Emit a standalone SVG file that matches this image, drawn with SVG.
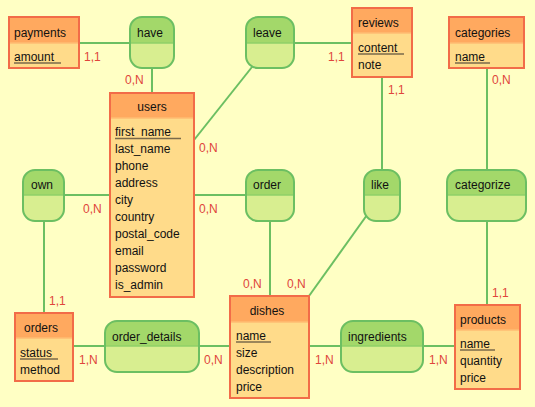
<svg xmlns="http://www.w3.org/2000/svg" width="535" height="407" viewBox="0 0 535 407">
<style>
text{font-family:"Liberation Sans",Arial,sans-serif;font-size:12px;fill:#111}
.card{fill:#e0453b}
.eb{fill:#ffdb8a}
.eh{fill:#ffa95f}
.eo{fill:none;stroke:#f26c48;stroke-width:2}
.ed{stroke:#ffbd72;stroke-width:1.5}
.rb{fill:#d8ee90}
.rh{fill:#a3d86a}
.ro{fill:none;stroke:#6cbf62;stroke-width:2}
.rd{stroke:#8fd068;stroke-width:1.5}
.ul{stroke:#7a6a4a;stroke-width:1.5}
#links line{stroke:#6cbf62;stroke-width:2}
</style>
<rect x="0" y="0" width="535" height="407" fill="#ffffc4"/>
<g id="links">
<line x1="79" y1="43" x2="130" y2="43"/>
<line x1="152" y1="68" x2="152" y2="93"/>
<line x1="252" y1="67" x2="194" y2="140"/>
<line x1="294" y1="43" x2="352" y2="43"/>
<line x1="382" y1="77" x2="382" y2="170"/>
<line x1="487" y1="68" x2="487" y2="170"/>
<line x1="487" y1="221" x2="487" y2="305"/>
<line x1="64" y1="195" x2="110" y2="195"/>
<line x1="194" y1="195" x2="246" y2="195"/>
<line x1="44" y1="221" x2="44" y2="313"/>
<line x1="270" y1="221" x2="270" y2="296"/>
<line x1="367" y1="215" x2="309" y2="296"/>
<line x1="73" y1="346" x2="105" y2="346"/>
<line x1="199" y1="346" x2="230" y2="346"/>
<line x1="309" y1="346" x2="341" y2="346"/>
<line x1="423" y1="346" x2="455" y2="346"/>
</g>
<g id="cards">
<text class="card" x="84" y="61">1,1</text>
<text class="card" x="125" y="84">0,N</text>
<text class="card" x="199" y="152">0,N</text>
<text class="card" x="328" y="61">1,1</text>
<text class="card" x="388" y="94">1,1</text>
<text class="card" x="492" y="84">0,N</text>
<text class="card" x="83" y="213">0,N</text>
<text class="card" x="199" y="213">0,N</text>
<text class="card" x="49" y="305">1,1</text>
<text class="card" x="243" y="288">0,N</text>
<text class="card" x="287" y="288">0,N</text>
<text class="card" x="492" y="297">1,1</text>
<text class="card" x="79" y="364">1,N</text>
<text class="card" x="204" y="364">0,N</text>
<text class="card" x="315" y="364">1,N</text>
<text class="card" x="429" y="364">1,N</text>
</g>
<g id="payments">
<rect class="eb" x="9" y="17" width="70" height="51"/>
<rect class="eh" x="9" y="17" width="70" height="26"/>
<line class="ed" x1="10" y1="43" x2="78" y2="43"/>
<rect class="eo" x="9" y="17" width="70" height="51"/>
<text x="14" y="37">payments</text>
<text x="14" y="61">amount</text>
<line class="ul" x1="14" y1="63" x2="61" y2="63"/>
</g>
<g id="users">
<rect class="eb" x="110" y="93" width="84" height="204"/>
<rect class="eh" x="110" y="93" width="84" height="25"/>
<line class="ed" x1="111" y1="118" x2="193" y2="118"/>
<rect class="eo" x="110" y="93" width="84" height="204"/>
<text x="152" y="111" text-anchor="middle">users</text>
<text x="115" y="136">first_name</text>
<line class="ul" x1="115" y1="138.5" x2="181" y2="138.5"/>
<text x="115" y="153">last_name</text>
<text x="115" y="170">phone</text>
<text x="115" y="187">address</text>
<text x="115" y="204">city</text>
<text x="115" y="221">country</text>
<text x="115" y="238">postal_code</text>
<text x="115" y="255">email</text>
<text x="115" y="272">password</text>
<text x="115" y="289">is_admin</text>
</g>
<g id="reviews">
<rect class="eb" x="352" y="8" width="60" height="69"/>
<rect class="eh" x="352" y="8" width="60" height="25"/>
<line class="ed" x1="353" y1="33" x2="411" y2="33"/>
<rect class="eo" x="352" y="8" width="60" height="69"/>
<text x="358" y="27">reviews</text>
<text x="358" y="52">content</text>
<line class="ul" x1="358" y1="54" x2="404" y2="54"/>
<text x="358" y="69">note</text>
</g>
<g id="categories">
<rect class="eb" x="449" y="17" width="75" height="51"/>
<rect class="eh" x="449" y="17" width="75" height="26"/>
<line class="ed" x1="450" y1="43" x2="523" y2="43"/>
<rect class="eo" x="449" y="17" width="75" height="51"/>
<text x="455" y="37">categories</text>
<text x="455" y="61">name</text>
<line class="ul" x1="455" y1="63" x2="490" y2="63"/>
</g>
<g id="orders">
<rect class="eb" x="15" y="313" width="58" height="68"/>
<rect class="eh" x="15" y="313" width="58" height="25"/>
<line class="ed" x1="16" y1="338" x2="72" y2="338"/>
<rect class="eo" x="15" y="313" width="58" height="68"/>
<text x="24" y="332">orders</text>
<text x="20" y="357">status</text>
<line class="ul" x1="20" y1="359" x2="58" y2="359"/>
<text x="20" y="374">method</text>
</g>
<g id="dishes">
<rect class="eb" x="230" y="296" width="79" height="102"/>
<rect class="eh" x="230" y="296" width="79" height="26"/>
<line class="ed" x1="231" y1="322" x2="308" y2="322"/>
<rect class="eo" x="230" y="296" width="79" height="102"/>
<text x="267" y="315" text-anchor="middle">dishes</text>
<text x="236" y="340">name</text>
<line class="ul" x1="236" y1="342" x2="271" y2="342"/>
<text x="236" y="357">size</text>
<text x="236" y="374">description</text>
<text x="236" y="391">price</text>
</g>
<g id="products">
<rect class="eb" x="455" y="305" width="65" height="84"/>
<rect class="eh" x="455" y="305" width="65" height="25"/>
<line class="ed" x1="456" y1="330" x2="519" y2="330"/>
<rect class="eo" x="455" y="305" width="65" height="84"/>
<text x="460" y="324">products</text>
<text x="460" y="348">name</text>
<line class="ul" x1="460" y1="350" x2="495" y2="350"/>
<text x="460" y="365">quantity</text>
<text x="460" y="382">price</text>
</g>
<g id="have">
<rect class="rb" x="130" y="17" width="44" height="51" rx="12"/>
<path class="rh" d="M130 43V29A12 12 0 0 1 142 17H162A12 12 0 0 1 174 29V43Z"/>
<line class="rd" x1="131" y1="43" x2="173" y2="43"/>
<rect class="ro" x="130" y="17" width="44" height="51" rx="12"/>
<text x="137" y="37">have</text>
</g>
<g id="leave">
<rect class="rb" x="246" y="17" width="48" height="51" rx="12"/>
<path class="rh" d="M246 43V29A12 12 0 0 1 258 17H282A12 12 0 0 1 294 29V43Z"/>
<line class="rd" x1="247" y1="43" x2="293" y2="43"/>
<rect class="ro" x="246" y="17" width="48" height="51" rx="12"/>
<text x="253" y="37">leave</text>
</g>
<g id="categorize">
<rect class="rb" x="447" y="170" width="79" height="51" rx="12"/>
<path class="rh" d="M447 195V182A12 12 0 0 1 459 170H514A12 12 0 0 1 526 182V195Z"/>
<line class="rd" x1="448" y1="195" x2="525" y2="195"/>
<rect class="ro" x="447" y="170" width="79" height="51" rx="12"/>
<text x="455" y="189">categorize</text>
</g>
<g id="own">
<rect class="rb" x="23" y="170" width="41" height="51" rx="12"/>
<path class="rh" d="M23 195V182A12 12 0 0 1 35 170H52A12 12 0 0 1 64 182V195Z"/>
<line class="rd" x1="24" y1="195" x2="63" y2="195"/>
<rect class="ro" x="23" y="170" width="41" height="51" rx="12"/>
<text x="31" y="189">own</text>
</g>
<g id="order">
<rect class="rb" x="246" y="170" width="48" height="51" rx="12"/>
<path class="rh" d="M246 195V182A12 12 0 0 1 258 170H282A12 12 0 0 1 294 182V195Z"/>
<line class="rd" x1="247" y1="195" x2="293" y2="195"/>
<rect class="ro" x="246" y="170" width="48" height="51" rx="12"/>
<text x="253" y="189">order</text>
</g>
<g id="like">
<rect class="rb" x="364" y="170" width="36" height="51" rx="12"/>
<path class="rh" d="M364 195V182A12 12 0 0 1 376 170H388A12 12 0 0 1 400 182V195Z"/>
<line class="rd" x1="365" y1="195" x2="399" y2="195"/>
<rect class="ro" x="364" y="170" width="36" height="51" rx="12"/>
<text x="371" y="189">like</text>
</g>
<g id="order_details">
<rect class="rb" x="105" y="321" width="94" height="51" rx="12"/>
<path class="rh" d="M105 346V333A12 12 0 0 1 117 321H187A12 12 0 0 1 199 333V346Z"/>
<line class="rd" x1="106" y1="346" x2="198" y2="346"/>
<rect class="ro" x="105" y="321" width="94" height="51" rx="12"/>
<text x="112" y="341">order_details</text>
</g>
<g id="ingredients">
<rect class="rb" x="341" y="321" width="82" height="51" rx="12"/>
<path class="rh" d="M341 346V333A12 12 0 0 1 353 321H411A12 12 0 0 1 423 333V346Z"/>
<line class="rd" x1="342" y1="346" x2="422" y2="346"/>
<rect class="ro" x="341" y="321" width="82" height="51" rx="12"/>
<text x="348" y="341">ingredients</text>
</g>
</svg>
